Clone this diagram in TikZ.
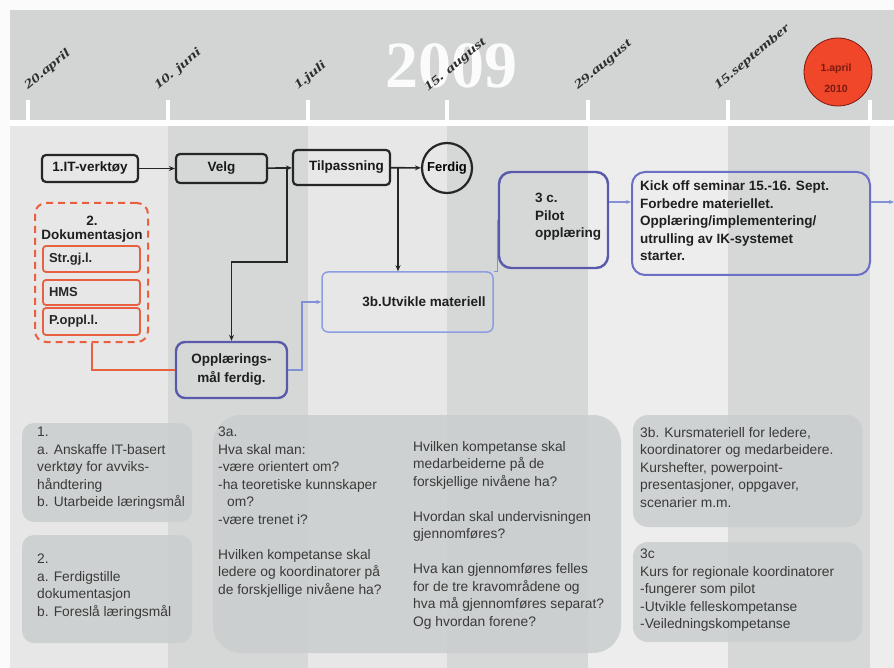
\documentclass[tikz,border=0pt]{standalone}
\usepackage{fontspec}
\setmainfont{Liberation Sans}
\newfontfamily\serifdate{Liberation Serif}
\usetikzlibrary{arrows.meta,calc}
\definecolor{banner}{HTML}{D3D5D5}
\definecolor{stripeL}{HTML}{E6E7E6}
\definecolor{stripeD}{HTML}{D6D8D8}
\definecolor{stripeLL}{HTML}{ECEDEC}
\definecolor{redl}{HTML}{E8603F}
\definecolor{purp}{HTML}{5A5AAA}
\definecolor{kickb}{HTML}{6A6EC4}
\definecolor{bluel}{HTML}{8C9EE0}
\definecolor{boxg}{HTML}{CACECE}
\definecolor{txt}{HTML}{3A3A3A}
\definecolor{circred}{HTML}{F0462A}
\definecolor{darkred}{HTML}{7A1A10}
\definecolor{datec}{HTML}{2E2E2E}
\begin{document}
\begin{tikzpicture}[x=1pt,y=-1pt,
  blk/.style={draw=black!85, line width=2.2pt, rounded corners=4pt, inner sep=0pt,
    font=\bfseries\fontsize{13.5}{15}\selectfont, text=black!90},
  redsub/.style={draw=redl, line width=1.8pt, rounded corners=3pt, inner xsep=6pt, inner ysep=0pt,
    text width=85pt, align=left, font=\bfseries\fontsize{13}{15}\selectfont, text=black!85},
  bold14/.style={font=\bfseries\fontsize{13.5}{17.5}\selectfont, text=black!88, inner sep=0pt},
  plain14/.style={font=\fontsize{13.8}{17.5}\selectfont, text=txt, inner sep=0pt, align=left, anchor=north west},
  gbox/.style={fill=boxg, fill opacity=0.85, rounded corners=12pt, inner sep=0pt},
  ar/.style={line width=1.6pt, black!85, -{Stealth[length=6pt,width=5pt]}},
  redline/.style={line width=2pt, redl},
  bline/.style={line width=1.2pt, bluel!80!purp},
  bar/.style={line width=1.2pt, bluel!80!purp, -{Stealth[length=5pt,width=4pt]}},
  datel/.style={font=\serifdate\bfseries\itshape\fontsize{14.5}{15}\selectfont, text=datec,
    rotate=40, anchor=base west, inner sep=0pt},
  tick/.style={white, line width=3.5pt}
]
\useasboundingbox (0,0) rectangle (894,668);
% background
\fill[white!97!gray] (0,0) rectangle (894,668);
\fill[banner] (10,10) rectangle (894,120);
\fill[stripeL] (10,126) rectangle (168,668);
\fill[stripeD] (168,126) rectangle (308,668);
\fill[stripeL] (308,126) rectangle (447,668);
\fill[stripeD] (447,126) rectangle (588,668);
\fill[stripeLL] (588,126) rectangle (728,668);
\fill[stripeD] (728,126) rectangle (870,668);
\fill[stripeLL] (870,126) rectangle (894,668);
\fill[white] (10,120) rectangle (894,126);
\foreach \t in {28,168,308,447,588,728,870} \draw[tick] (\t,100) -- (\t,121);
% year
\node[font=\serifdate\bfseries\fontsize{66}{66}\selectfont, text=white, opacity=0.92] (year) at (451,66) {2009};
% date labels
\node[datel] (d1) at (28,90) {\scalebox{1.2}[0.85]{20.april}};
\node[datel] (d2) at (158,90) {\scalebox{1.2}[0.85]{10. juni}};
\node[datel] (d3) at (298,90) {\scalebox{1.2}[0.85]{1.juli}};
\node[datel] (d4) at (428,92) {\scalebox{1.2}[0.85]{15. august}};
\node[datel] (d5) at (578,90) {\scalebox{1.2}[0.85]{29.august}};
\node[datel] (d6) at (718,90) {\scalebox{1.2}[0.85]{15.september}};
% red circle
\node[circle, fill=circred, draw=darkred, line width=0.8pt, minimum size=68pt, inner sep=0pt] (apr) at (838,72) {};
\node[font=\bfseries\fontsize{10.5}{21}\selectfont, text=darkred, align=center, inner sep=0pt] (aprt) at (836,78) {1.april\\2010};
% top flow
\node[blk, minimum width=96pt, minimum height=27pt] (it) at (90,168.5) {1.IT-verktøy};
\node[blk, minimum width=91pt, minimum height=29pt] (velg) at (221.5,168.5) {Velg};
\node[blk, minimum width=97pt, minimum height=35pt] (tilp) at (341.5,167.5) {\hspace*{10pt}Tilpassning};
\node[circle, draw=black!85, line width=2.2pt, minimum size=50pt, inner sep=0pt,
  font=\bfseries\fontsize{13}{15}\selectfont] (ferdig) at (447,168) {Ferdig};
\coordinate (j1) at (287,168.5);
\coordinate (k1) at (287,262);
\coordinate (j2) at (398,168.5);
% documentation
\node[draw=redl, dashed, dash pattern=on 7pt off 5pt, line width=2pt, rounded corners=11pt,
  minimum width=113pt, minimum height=139pt] (doc) at (91.5,272.5) {};
\node[bold14, align=center, font=\bfseries\fontsize{13.5}{14}\selectfont] (doct) at (92,229) {2.\\Dokumentasjon};
\node[redsub, minimum height=26pt] (str) at (91.5,259) {Str.gj.l.};
\node[redsub, minimum height=25pt] (hms) at (91.5,292.5) {HMS};
\node[redsub, minimum height=27pt] (popp) at (91.5,321.5) {P.oppl.l.};
% middle boxes
\node[draw=purp, line width=2.4pt, rounded corners=9pt, minimum width=111pt, minimum height=56pt,
  bold14, align=center, font=\bfseries\fontsize{13.5}{19}\selectfont] (opp) at (231.5,370) {Opplærings-\\mål ferdig.};
\node[draw=bluel, line width=1.5pt, rounded corners=6pt, minimum width=171pt, minimum height=60pt] (u3b) at (407.5,302) {};
\node[bold14] (u3bt) at (424,302) {3b.Utvikle materiell};
\node[draw=purp, line width=2.4pt, rounded corners=12pt, minimum width=109pt, minimum height=96pt] (p3c) at (553.5,220) {};
\node[bold14, align=left, anchor=north west] (p3ct) at (535,193) {3 c.\\Pilot\\opplæring};
\node[draw=kickb, line width=2pt, rounded corners=13pt, minimum width=238pt, minimum height=103pt] (kick) at (751,223.5) {};
\node[bold14, align=left, anchor=north west] (kickt) at (640,181) {Kick off seminar 15.-16. Sept.\\Forbedre materiellet.\\Opplæring/implementering/\\utrulling av IK-systemet\\starter.};
\coordinate (ay) at (0,202);
\coordinate (outp) at (894,202);
\coordinate (b1) at (302,0);
% connectors
\draw[ar] (it) -- (velg);
\draw[ar] (velg) -- (tilp);
\draw[ar] (j1) -- (k1) -| (opp.north);
\draw[ar] (tilp) -- (ferdig);
\draw[ar] (j2) -- (j2 |- u3b.north);
\draw[redline] (doc.south) |- (opp.west);
\draw[bar] (opp.east) -| (b1 |- u3b.west) -- (u3b.west);
\draw[bline] (u3b.north east) -- (u3b.north east -| p3c.west) -- (p3c.west);
\draw[bar] (p3c.east |- ay) -- (kick.west |- ay);
\draw[bar] (kick.east |- ay) -- (outp);
% bottom boxes
\node[gbox, minimum width=170pt, minimum height=99pt] (g1) at (107,472.5) {};
\node[gbox, minimum width=170pt, minimum height=108pt] (g2) at (107,589) {};
\node[gbox, rounded corners=28pt, minimum width=408pt, minimum height=238pt] (g3) at (417,534) {};
\node[gbox, rounded corners=15pt, minimum width=229pt, minimum height=112pt] (g4) at (747.5,471) {};
\node[gbox, rounded corners=15pt, minimum width=229pt, minimum height=100pt] (g5) at (747.5,592) {};
\node[plain14] (g1t) at (37,427) {1.\\a. Anskaffe IT-basert\\verktøy for avviks-\\håndtering\\b. Utarbeide læringsmål};
\node[plain14] (g2t) at (37,554) {2.\\a. Ferdigstille\\dokumentasjon\\b. Foreslå læringsmål};
\node[plain14] (g3t) at (218,427) {3a.\\Hva skal man:\\-være orientert om?\\-ha teoretiske kunnskaper\\\hspace*{9pt}om?\\-være trenet i?\\[17.5pt]Hvilken kompetanse skal\\ledere og koordinatorer på\\de forskjellige nivåene ha?};
\node[plain14] (g3u) at (413,441) {Hvilken kompetanse skal\\medarbeiderne på de\\forskjellige nivåene ha?\\[17.5pt]Hvordan skal undervisningen\\gjennomføres?\\[17.5pt]Hva kan gjennomføres felles\\for de tre kravområdene og\\hva må gjennomføres separat?\\Og hvordan forene?};
\node[plain14] (g4t) at (640,427) {3b. Kursmateriell for ledere,\\koordinatorer og medarbeidere.\\Kurshefter, powerpoint-\\presentasjoner, oppgaver,\\scenarier m.m.};
\node[plain14] (g5t) at (640,549) {3c\\Kurs for regionale koordinatorer\\-fungerer som pilot\\-Utvikle felleskompetanse\\-Veiledningskompetanse};
\end{tikzpicture}
\end{document}
